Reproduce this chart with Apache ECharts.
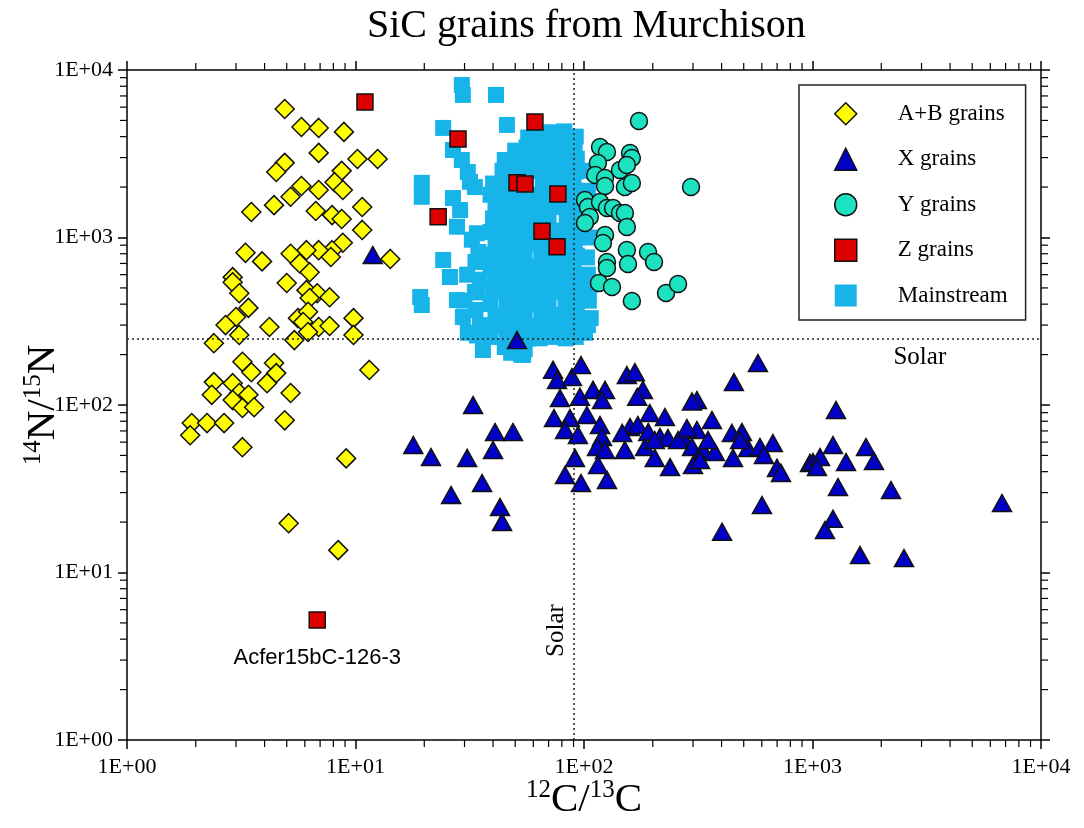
<!DOCTYPE html>
<html><head><meta charset="utf-8">
<script src="https://cdn.jsdelivr.net/npm/echarts@6/dist/echarts.min.js"></script>
<style>html,body{margin:0;padding:0;background:#fff}#chart{width:1084px;height:828px}</style>
</head><body><div id="chart"></div>
<script>
// ---- data: [12C/13C, 14N/15N] ----
const titleText = 'SiC grains from Murchison';
const seriesNames = ['A+B grains', 'X grains', 'Y grains', 'Z grains', 'Mainstream'];
const axisTickValues = [1, 10, 100, 1000, 10000];
const minorTickValues = [2,3,4,5,6,7,8,9,20,30,40,50,60,70,80,90,200,300,400,500,600,700,800,900,2000,3000,4000,5000,6000,7000,8000,9000];
const solarC = 90;
const solarN = 248;
const solarLabel = 'Solar';
const acferLabel = 'Acfer15bC-126-3';

const abGrains = [[4.9,5850],[5.8,4570],[6.9,4510],[8.9,4270],[6.9,3200],[10.2,2940],[12.5,2940],[4.9,2790],[4.5,2460],[8.7,2500],[5.8,2030],[6.9,1920],[8.1,2140],[8.8,1920],[5.2,1750],[4.4,1560],[3.5,1420],[6.7,1440],[7.9,1360],[8.7,1290],[10.7,1520],[10.7,1110],[8.8,930],[7.9,840],[6.9,840],[6.1,840],[5.2,800],[3.3,810],[3.9,720],[7.8,765],[5.7,700],[6.3,620],[14.2,745],[2.9,580],[2.9,540],[3.1,465],[5.0,535],[6.1,485],[6.8,465],[6.3,435],[7.7,440],[3.4,380],[3.0,335],[2.7,300],[3.1,262],[4.2,292],[5.6,330],[6.2,360],[5.9,313],[6.9,292],[7.7,296],[6.2,273],[9.8,330],[9.8,262],[2.4,234],[5.4,244],[11.5,162],[3.2,181],[4.4,178],[3.5,157],[4.5,155],[2.4,137],[2.9,135],[4.1,135],[2.35,115],[3.1,118],[3.4,115],[2.9,107],[3.2,96],[3.6,97],[5.2,118],[1.92,78],[1.89,66],[2.24,78],[2.66,78],[4.9,81],[3.2,56],[9.1,48],[5.1,19.7],[8.4,13.6]];

const xGrains = [[11.9,786],[50.9,244],[17.9,57.7],[21.4,48.9],[32.7,100],[30.8,48.3],[26.2,29],[35.8,34.2],[40.8,69],[48.9,69],[40,53.9],[42.9,24.6],[43.8,20],
[73.2,162],[76.2,141],[88.6,147],[97,173],[78.5,110],[96,112],[109.5,123],[123.6,123],[119.9,107],[73.9,83.6],[86.8,83.6],[103,87.1],[82.6,70.9],[94.1,66.2],[117.5,76],[119.9,64.4],[114,56.1],[123.6,53.9],[91.3,48.3],[115.2,43.8],[82.6,38.2],[97,34.2],[126.1,35.7],
[154,151],[167,157],[181,123],[171,112],[194,89.6],[226,84.8],[159,73.9],[172,76],[191,69],[215,64.4],[233,63.5],[151,53.9],[185,56.1],[204,48.3],[238,42.6],[271,64.4],[312,70.9],[363,81.4],[297,56.1],[332,53.9],[374,52.4],[300,43.8],[312,107],[297,105],
[453,137],[577,178],[444,68.1],[491,69],[449,48.3],[522,55.4],[589,56.1],[671,59.3],[613,50.3],[699,42.1],[728,39.3],[601,25.3],[402,17.5],
[975,45.1],[1005,45.7],[1079,48.9],[1229,57.7],[1046,42.6],[1402,45.7],[1714,56.1],[1858,46.3],[1293,32.4],[1267,93.4],[2205,31.1],[1229,20.9],[1134,17.9],[1614,12.7],[2514,12.2],[6750,26],
[147,68.1],[204,61.8],[258,61.8],[282,72.9],[349,61.8],[322,47],[482,61.8]];

const yGrains = [[174,4960],[117.5,3470],[126,3240],[159,3195],[162,2983],[115,2785],[112,2361],[123.6,2266],[143.7,2530],[154,2710],[123.6,2030],[151,2002],[162,2116],[294,2002],[101,1675],[104,1521],[117.5,1629],[126,1500],[134,1500],[143.7,1401],[151,1401],[106,1326],[101,1221],[154,1155],[123.6,1035],[121,927],[154,842],[190.6,819],[126,714],[126,657],[155.8,695],[202.5,714],[116.3,535],[132.6,506],[162,418],[228.5,466],[258,528]];

const zGrains = [[11,6440],[61,4890],[28.1,3870],[50.9,2120],[55.2,2090],[76.9,1820],[23,1330],[65.5,1090],[76.2,880],[6.8,5.2]];

const mainstream = [
[92,4000],[91,3450],[93,2950],[92,2480],[90,2120],[93,1800],[91,1510],[92,1300],[94,1100],[91,925],[93,780],[90,670],[92,560],[94,480],[91,400],[93,345],[90,292],[92,255],
[82,4300],[81,3900],[83,3400],[82,2900],[80,2500],[83,2100],[81,1800],[82,1530],[84,1280],[81,1090],[83,930],[80,790],[82,660],[84,565],[81,475],[83,405],[80,345],[82,295],[83,250],
[72,4250],[73,3850],[71,3450],[72,2950],[74,2450],[71,2100],[73,1790],[72,1520],[70,1300],[73,1100],[72,920],[74,780],[71,670],[73,560],[72,480],[70,400],[73,340],[72,290],[71,255],
[64,4000],[65,3500],[63,2900],[64,2500],[66,2120],[64,1800],[63,1520],[65,1290],[64,1090],[62,930],[65,790],[64,660],[66,570],[63,475],[64,405],[65,345],[63,295],[64,250],
[57,3950],[56,3450],[58,2950],[57,2500],[55,2100],[58,1790],[57,1520],[56,1280],[58,1100],[57,920],[55,780],[57,670],[58,560],[56,480],[57,400],[55,345],[58,290],[57,250],[55,215],
[50,3300],[51,2900],[49,2480],[50,2150],[52,1800],[50,1510],[49,1300],[51,1090],[50,940],[52,790],[49,660],[50,560],[51,480],[49,405],[50,350],[52,290],[50,250],[49,220],
[45,2900],[44,2500],[46,2100],[45,1780],[44,1530],[46,1290],[45,1100],[44,920],[46,780],[45,670],[44,570],[45,475],[46,410],[44,340],[45,295],[46,250],[45,222],
[40,2100],[39,1800],[41,1500],[40,1300],[39,1080],[41,930],[40,790],[39,660],[41,560],[40,480],[39,400],[41,345],[40,295],[39,255],
[34,1060],[34.5,820],[33.5,714],[35,560],[34,470],[33.5,369],[35,300],[34,260],
[31,2460],[30.8,600],[30,420],[31,270],
[100,2500],[104,1900],[102,1400],[105,1000],[103,760],[104,600],[106,520],[107,330],[104,300],[101,270],[105,420],
[48,205],[53,200],[54.1,199],[47,228],[36.1,213],
[29.2,8130],[29.5,7100],[41.2,7100],[24.2,4510],[46,4700],[26.7,3330],[29.2,2900],[19.5,2120],[19.5,1750],[31.7,2150],[33.3,2000],[26.7,1720],[28.7,1460],[27.8,1160],[32.3,970],[24.2,734],[25.9,581],[19.2,441],[19.5,395],[27.8,423],[33.3,473],[29.5,335]
];

// ---- chart ----
const serif = 'Liberation Serif';
const chart = echarts.init(document.getElementById('chart'), null, {renderer: 'canvas'});
const fmt = v => '1E+' + String(Math.round(Math.log10(v))).padStart(2, '0');
const axisMin = axisTickValues[0], axisMax = axisTickValues[axisTickValues.length - 1];
function logAxis(extra) {
  return Object.assign({
    type: 'log', logBase: 10, min: axisMin, max: axisMax, splitNumber: 4,
    splitLine: {show: false},
    axisLine: {show: true, onZero: false, lineStyle: {color: '#000', width: 1.5}},
    axisTick: {show: true, inside: false, length: 9, lineStyle: {color: '#000', width: 1.5}},
    minorTick: {show: false},
    axisLabel: {show: false},
    nameMoveOverlap: false
  }, extra);
}
const nameStyle = {
  fontFamily: serif, fontSize: 41, color: '#000', lineHeight: 44,
  rich: {s: {fontFamily: serif, fontSize: 25, color: '#000', lineHeight: 22, verticalAlign: 'top'}}
};
const labelStyle = {show: true, fontFamily: serif, fontSize: 22, color: '#000', formatter: fmt, showMinLabel: true, showMaxLabel: true};
const stroke = '#111';

const option = {
  animation: false,
  backgroundColor: '#fff',
  title: {text: titleText, left: 362, top: 1, textStyle: {fontFamily: serif, fontSize: 40, fontWeight: 'normal', color: '#000'}},
  grid: {left: 127, right: 43, top: 70, bottom: 88, containLabel: false, outerBoundsMode: 'none'},
  legend: {
    orient: 'vertical', left: 799, top: 85, padding: [17, 18, 13, 35],
    itemWidth: 22, itemHeight: 22, itemGap: 22,
    backgroundColor: '#fff', borderColor: '#222', borderWidth: 1.5,
    selectedMode: false,
    textStyle: {fontFamily: serif, fontSize: 23, color: '#000', lineHeight: 22, padding: [0, 0, 0, 36]},
    itemStyle: {borderColor: stroke, borderWidth: 1.5},
    data: [
      {name: seriesNames[0]}, {name: seriesNames[1]}, {name: seriesNames[2]}, {name: seriesNames[3]},
      {name: seriesNames[4], itemStyle: {borderWidth: 0}}
    ]
  },
  xAxis: [
    logAxis({position: 'bottom', axisLabel: Object.assign({margin: 16}, labelStyle),
      name: '{s|12}C/{s|13}C', nameLocation: 'middle', nameGap: 38, nameTextStyle: nameStyle}),
    logAxis({position: 'top'})
  ],
  yAxis: [
    logAxis({position: 'left', axisLabel: Object.assign({margin: 14}, labelStyle),
      name: '{s|14}N/{s|15}N', nameLocation: 'middle', nameRotate: 90, nameGap: 62, nameTextStyle: nameStyle}),
    logAxis({position: 'right'})
  ],
  series: [
    {
      name: seriesNames[4], type: 'scatter', symbol: 'rect', symbolSize: 16,
      itemStyle: {color: '#17b4e9', borderWidth: 0, opacity: 1},
      data: mainstream,
      markLine: {
        silent: true, symbol: 'none', animation: false,
        lineStyle: {type: [2, 3], color: '#222', width: 1.5},
        label: {show: false},
        data: [{yAxis: solarN}, {xAxis: solarC}]
      },
      markPoint: {
        silent: true, symbol: 'circle', symbolSize: 1, itemStyle: {color: 'rgba(0,0,0,0)'},
        label: {show: true, position: 'inside', color: '#000', fontFamily: serif, fontSize: 25, formatter: solarLabel},
        data: [
          {coord: [2950, 193]},
          {coord: [76, 4.5], label: {rotate: 90}}
        ]
      }
    },
    {
      name: seriesNames[0], type: 'scatter', symbol: 'diamond', symbolSize: 19,
      itemStyle: {color: '#ffff00', borderColor: stroke, borderWidth: 1.5, opacity: 1},
      data: abGrains
    },
    {
      name: seriesNames[1], type: 'scatter', symbol: 'triangle', symbolSize: [19, 17],
      itemStyle: {color: '#0000c8', borderColor: stroke, borderWidth: 1.5, opacity: 1},
      data: xGrains
    },
    {
      name: seriesNames[2], type: 'scatter', symbol: 'circle', symbolSize: 17,
      itemStyle: {color: '#1de2c0', borderColor: stroke, borderWidth: 1.5, opacity: 1},
      data: yGrains
    },
    {
      name: seriesNames[3], type: 'scatter', symbol: 'rect', symbolSize: 16,
      itemStyle: {color: '#dd0000', borderColor: stroke, borderWidth: 1.5, opacity: 1},
      data: zGrains.map((p, i) => i === zGrains.length - 1
        ? {value: p, label: {show: true, position: 'bottom', distance: 18, formatter: acferLabel,
            fontFamily: 'Liberation Sans', fontSize: 22, color: '#000'}}
        : p)
    },
    {
      name: 'minorTicks', type: 'custom', silent: true, clip: false,
      data: minorTickValues.map(v => [v, v]),
      renderItem: function (params, api) {
        const v = api.value(0);
        const b = api.coord([v, axisMin]), t = api.coord([v, axisMax]);
        const l = api.coord([axisMin, v]), r = api.coord([axisMax, v]);
        const L = 7, st = {stroke: '#000', lineWidth: 1.2};
        return {type: 'group', children: [
          {type: 'line', shape: {x1: b[0], y1: b[1], x2: b[0], y2: b[1] + L}, style: st},
          {type: 'line', shape: {x1: t[0], y1: t[1], x2: t[0], y2: t[1] - L}, style: st},
          {type: 'line', shape: {x1: l[0], y1: l[1], x2: l[0] - L, y2: l[1]}, style: st},
          {type: 'line', shape: {x1: r[0], y1: r[1], x2: r[0] + L, y2: r[1]}, style: st}
        ]};
      }
    }
  ]
};
chart.setOption(option);
</script></body></html>
